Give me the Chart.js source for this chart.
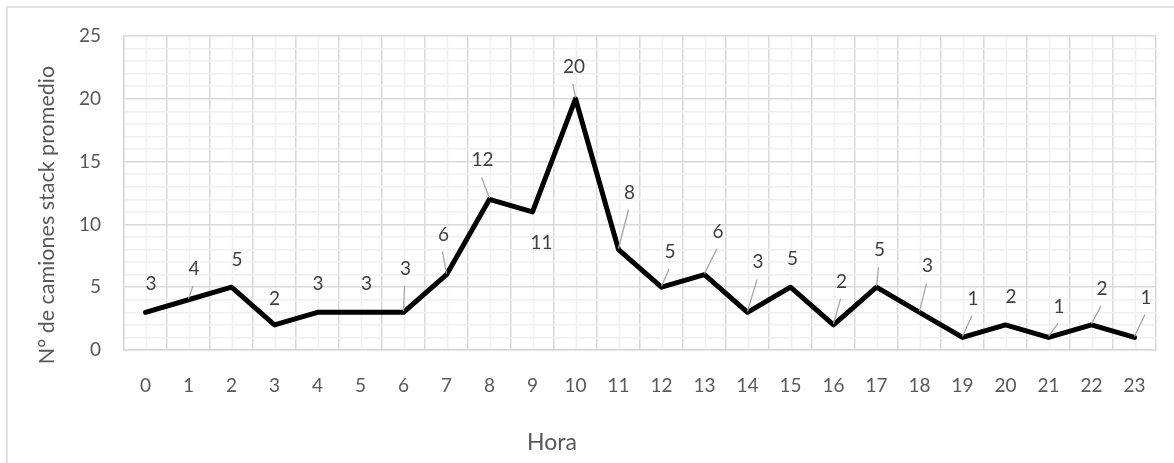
<!DOCTYPE html>
<html>
<head>
<meta charset="utf-8">
<script src="https://cdn.jsdelivr.net/npm/chart.js@4"></script>
<style>
  html, body { margin: 0; padding: 0; background: #ffffff; }
  #wrap { width: 1174px; height: 463px; position: relative; }
</style>
</head>
<body>
<div id="wrap"><canvas id="c" width="1174" height="463"></canvas></div>
<script>
// ---- data ----
const hours = ["0","1","2","3","4","5","6","7","8","9","10","11","12","13","14","15","16","17","18","19","20","21","22","23"];
const camiones = [3,4,5,2,3,3,3,6,12,11,20,8,5,6,3,5,2,5,3,1,2,1,2,1];
const yMin = 0, yMax = 25, yMajorStep = 5;
const xTitle = "Hora";
const yTitle = "N° de camiones stack promedio";

// ---- data-label placement (pixel offsets of label centre from its point) ----
const labelDx = [5.5,5.5,5.5,0,0.5,6,2,-3,-7,9,-1.5,11,8.5,13.5,10.5,2,8,3,8,10.5,5.5,10.5,10.5,11.5];
const labelDy = [-28,-31,-27,-26,-28,-28,-43,-40,-39,31,-32,-57,-35,-43,-50,-28,-43,-37,-46,-39,-28,-31,-36,-40];
const leader  = [0,1,0,0,0,0,1,1,1,0,1,1,1,1,1,0,1,1,1,1,0,1,1,1];

const FONT = "Lato, 'Open Sans', 'Liberation Sans', sans-serif";
const TXT = "#595959";
const MAJOR = "#d9d9d9";
const MINOR = "#f0f0f0";

const framePlugin = {
  id: 'frame',
  beforeDraw(chart) {
    const ctx = chart.ctx;
    ctx.save();
    ctx.fillStyle = '#ffffff';
    ctx.fillRect(0, 0, chart.width, chart.height);
    ctx.strokeStyle = MAJOR;
    ctx.lineWidth = 1.5;
    ctx.beginPath();
    ctx.moveTo(7, chart.height + 5);
    ctx.lineTo(7, 7);
    ctx.lineTo(chart.width + 5, 7);
    ctx.stroke();
    // minor vertical gridlines at category centres
    const xs = chart.scales.x, a = chart.chartArea;
    ctx.strokeStyle = MINOR;
    ctx.lineWidth = 1.5;
    for (let i = 0; i < hours.length; i++) {
      const px = Math.round(xs.getPixelForValue(i)) + 0.5;
      ctx.beginPath();
      ctx.moveTo(px, a.top);
      ctx.lineTo(px, a.bottom);
      ctx.stroke();
    }
    ctx.restore();
  },
  afterDraw(chart) {
    const ctx = chart.ctx;
    ctx.save();
    ctx.fillStyle = TXT;
    ctx.textAlign = 'center';
    ctx.textBaseline = 'middle';
    ctx.font = "23px " + FONT;
    ctx.fillText(xTitle, 552, 443);
    ctx.font = "21.5px " + FONT;
    ctx.translate(47, 215);
    ctx.rotate(-Math.PI / 2);
    ctx.fillText(yTitle, 0, 0);
    ctx.restore();
  }
};

const labelPlugin = {
  id: 'pointLabels',
  afterDatasetsDraw(chart) {
    const ctx = chart.ctx;
    const meta = chart.getDatasetMeta(0);
    ctx.save();
    meta.data.forEach((el, i) => {
      const px = el.x, py = el.y;
      const lx = px + labelDx[i], ly = py + labelDy[i];
      if (leader[i]) {
        ctx.strokeStyle = '#a6a6a6';
        ctx.lineWidth = 1.3;
        ctx.beginPath();
        ctx.moveTo(lx - 1, ly + 17);
        ctx.lineTo(px, py - 1);
        ctx.stroke();
      }
      ctx.fillStyle = '#404040';
      ctx.font = "19px " + FONT;
      ctx.textAlign = 'center';
      ctx.textBaseline = 'middle';
      ctx.fillText(String(camiones[i]), lx, ly);
    });
    ctx.restore();
  }
};

new Chart(document.getElementById('c'), {
  type: 'line',
  data: {
    labels: hours,
    datasets: [{
      data: camiones,
      borderColor: '#000000',
      borderWidth: 5,
      borderJoinStyle: 'round',
      borderCapStyle: 'round',
      pointRadius: 0,
      pointHoverRadius: 0,
      tension: 0,
      fill: false
    }]
  },
  options: {
    responsive: false,
    animation: false,
    devicePixelRatio: 1,
    events: [],
    layout: { padding: { left: 0, top: 36, right: 18, bottom: 0 } },
    plugins: { legend: { display: false }, tooltip: { enabled: false } },
    scales: {
      x: {
        type: 'category',
        offset: true,
        grid: { offset: true, color: MAJOR, lineWidth: 1.5, drawTicks: true, tickLength: 24, tickColor: 'rgba(0,0,0,0)' },
        border: { color: MAJOR, width: 1.5 },
        ticks: { color: TXT, font: { family: FONT, size: 19 }, padding: 0, maxRotation: 0, autoSkip: false },
        afterFit(s) { s.height = 113; }
      },
      y: {
        min: yMin, max: yMax,
        grid: {
          color: (c) => (c.tick && c.tick.value % yMajorStep === 0) ? MAJOR : MINOR,
          lineWidth: 1.5,
          drawTicks: false
        },
        border: { color: MAJOR, width: 1.5 },
        ticks: {
          stepSize: 1, autoSkip: false,
          color: TXT, font: { family: FONT, size: 19 }, padding: 23,
          callback: (v) => (v % yMajorStep === 0 ? String(v) : '')
        },
        afterFit(s) { s.width = 124; }
      }
    }
  },
  plugins: [framePlugin, labelPlugin]
});
</script>
</body>
</html>
